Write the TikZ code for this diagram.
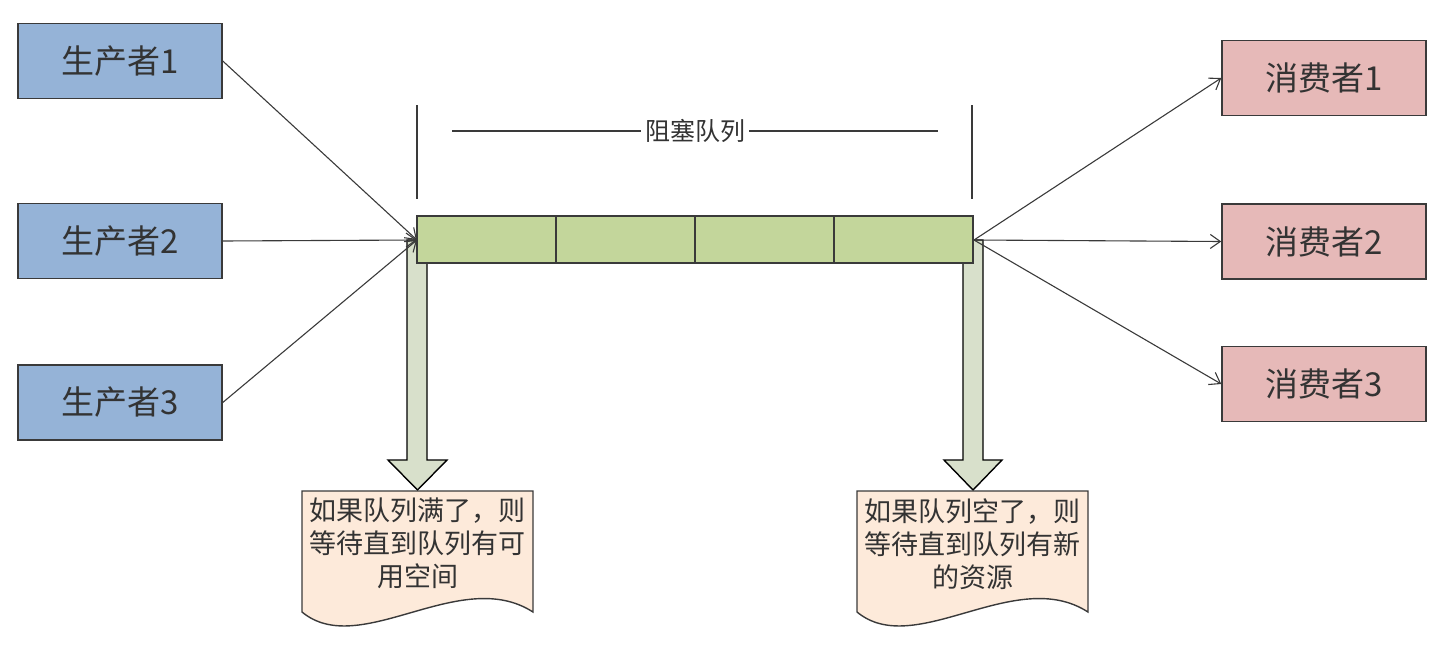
\documentclass[tikz,border=0pt]{standalone}
\usepackage{fontspec}
\setmainfont{Noto Sans CJK SC}
\usetikzlibrary{arrows.meta}
\definecolor{prodfill}{HTML}{95B3D7}
\definecolor{consfill}{HTML}{E6B9B8}
\definecolor{queuefill}{HTML}{C3D69B}
\definecolor{downfill}{HTML}{D8E0CB}
\definecolor{docfill}{HTML}{FDEADA}
\definecolor{edge}{HTML}{3A3A3A}
\definecolor{ink}{HTML}{333333}
\tikzset{
  actor/.style={draw=edge, line width=1.5pt, minimum width=204pt, minimum height=75pt,
    inner sep=0pt, font=\fontsize{33}{38}\selectfont, text=ink},
  producer/.style={actor, fill=prodfill},
  consumer/.style={actor, fill=consfill},
  cell/.style={draw=edge, line width=1.5pt, fill=queuefill, minimum width=139pt,
    minimum height=47pt, inner sep=0pt},
  link/.style={draw=edge, line width=1.1pt, -{Straight Barb[length=10pt,width=14pt,line width=1.1pt]}},
  downarrow/.style={draw=black, line width=1.4pt, fill=downfill},
  doc/.style={draw=edge, line width=1.4pt, fill=docfill},
  doctext/.style={text width=228pt, align=center, inner sep=0pt, text=ink,
    font=\fontsize{27}{33}\selectfont},
  tick/.style={draw=edge, line width=1.4pt}
}
\begin{document}
\begin{tikzpicture}[x=1pt, y=-1pt]
\useasboundingbox (0,0) rectangle (1446,648);

% producers and consumers
\node[producer] (p1) at (120,61) {生产者1};
\node[producer] (p2) at (120,241) {生产者2};
\node[producer] (p3) at (120,402.5) {生产者3};
\node[consumer] (c1) at (1324,78) {消费者1};
\node[consumer] (c2) at (1324,241.5) {消费者2};
\node[consumer] (c3) at (1324,384) {消费者3};

% wide down arrows, partly hidden behind the queue
\draw[downarrow] (407,240) -- (407,460) -- (388,460) -- (417.5,490) -- (447,460)
  -- (427,460) -- (427,240) -- cycle;
\draw[downarrow] (963,240) -- (963,460) -- (944,460) -- (973,490) -- (1002,460)
  -- (983,460) -- (983,240) -- cycle;

% the queue cells
\node[cell] (q1) at (486.5,239.5) {};
\node[cell] (q2) at (625.5,239.5) {};
\node[cell] (q3) at (764.5,239.5) {};
\node[cell] (q4) at (903.5,239.5) {};

% span marker with title
\node[font=\fontsize{25}{29}\selectfont, text=ink, inner sep=4pt] (title) at (695,131) {阻塞队列};
\coordinate (sl) at (452,131);
\coordinate (sr) at (938,131);
\draw[tick] (sl) -- (title.west);
\draw[tick] (title.east) -- (sr);
\coordinate (ltop) at (417,105);
\coordinate (lbot) at (417,199);
\coordinate (rtop) at (972,105);
\coordinate (rbot) at (972,199);
\draw[tick] (ltop) -- (lbot);
\draw[tick] (rtop) -- (rbot);

% connectors
\coordinate (qin) at (417,240);
\coordinate (qout) at (974,240);
\draw[link] (p1.east) -- (qin);
\draw[link] (p2.east) -- (qin);
\draw[link] (p3.east) -- (qin);
\draw[link] (qout) -- (c1.west);
\draw[link] (qout) -- (c2.west);
\draw[link] (qout) -- (c3.west);

% wavy-bottom notes
\draw[doc] (302,491) -- (533,491) -- (533,612)
  .. controls (460,565) and (360,660) .. (302,612) -- cycle;
\draw[doc] (857,491) -- (1088,491) -- (1088,612)
  .. controls (1015,565) and (915,660) .. (857,612) -- cycle;
\node[doctext, anchor=north] (n1) at (417.5,498) {如果队列满了，则\\等待直到队列有可\\用空间};
\node[doctext, anchor=north] (n2) at (972.5,498) {如果队列空了，则\\等待直到队列有新\\的资源};
\end{tikzpicture}
\end{document}
